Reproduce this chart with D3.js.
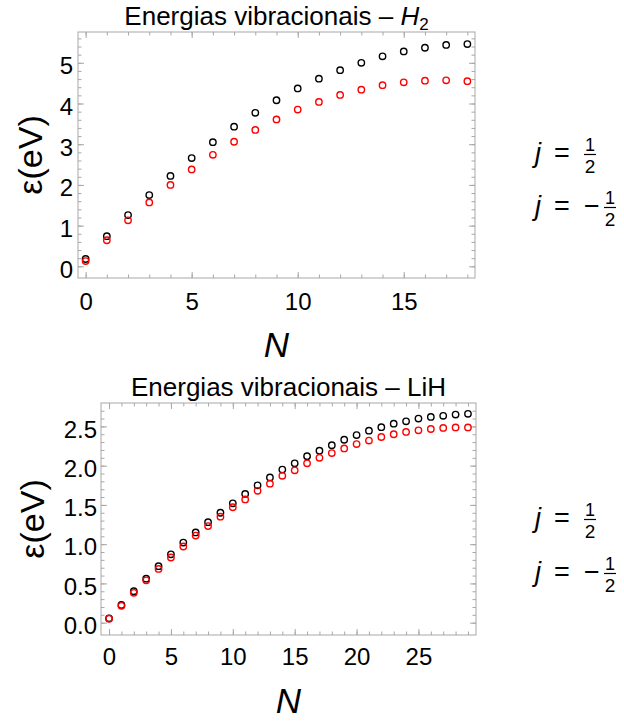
<!DOCTYPE html>
<html>
<head>
<meta charset="utf-8">
<script src="https://cdn.jsdelivr.net/npm/d3@7"></script>
<style>
  body { margin: 0; background: #fff; }
  svg { display: block; font-family: "Liberation Sans", Arial, sans-serif; }
  .frame line, .frame path { stroke: #a8a8a8; }
  .frame text { fill: #000; font-size: 24px; }
</style>
</head>
<body>
<div id="chart"></div>
<script>
// H2 vibrational energies, N = 0..18
const nH2 = d3.range(0, 19)
const h2Up = [0.18, 0.74, 1.26, 1.75, 2.22, 2.66, 3.05, 3.43, 3.77, 4.08, 4.37, 4.61, 4.82, 5.00, 5.16, 5.28, 5.37, 5.44, 5.46]
const h2Down = [0.13, 0.64, 1.13, 1.57, 2.00, 2.38, 2.74, 3.06, 3.35, 3.61, 3.85, 4.04, 4.21, 4.34, 4.45, 4.52, 4.56, 4.57, 4.55]

// LiH vibrational energies, N = 0..29
const nLiH = d3.range(0, 30)
const lihUp = [0.055, 0.225, 0.40, 0.56, 0.72, 0.87, 1.02, 1.15, 1.28, 1.40, 1.52, 1.64, 1.75, 1.85, 1.95, 2.03, 2.12, 2.19, 2.26, 2.33, 2.39, 2.445, 2.49, 2.535, 2.565, 2.60, 2.62, 2.635, 2.65, 2.66]
const lihDown = [0.05, 0.215, 0.38, 0.54, 0.685, 0.83, 0.97, 1.11, 1.23, 1.35, 1.47, 1.57, 1.68, 1.77, 1.87, 1.94, 2.03, 2.10, 2.16, 2.22, 2.275, 2.32, 2.365, 2.40, 2.43, 2.45, 2.467, 2.48, 2.487, 2.487]

const h2XTicks = [0, 5, 10, 15]
const h2YTicks = [0, 1, 2, 3, 4, 5]
const lihXTicks = [0, 5, 10, 15, 20, 25]
const lihYTicks = [0, 0.5, 1.0, 1.5, 2.0, 2.5]

const width = 624, height = 721

const svg = d3.select('#chart')
  .append('svg')
  .attr('width', width)
  .attr('height', height)

function panel(opt) {
  const g = svg.append('g')

  const x = d3.scaleLinear().domain(opt.xDomain).range([opt.left, opt.right])
  const y = d3.scaleLinear().domain(opt.yDomain).range([opt.bottom, opt.top])

  const frame = g.append('g').attr('class', 'frame')

  // minor ticks
  const axes = [
    [d3.axisBottom(x), `translate(0,${opt.bottom})`, opt.xMinor],
    [d3.axisTop(x), `translate(0,${opt.top})`, opt.xMinor],
    [d3.axisLeft(y), `translate(${opt.left},0)`, opt.yMinor],
    [d3.axisRight(y), `translate(${opt.right},0)`, opt.yMinor]
  ]
  axes.forEach(([ax, tr, vals]) => {
    frame.append('g')
      .attr('transform', tr)
      .call(ax.tickValues(vals).tickSize(-3.5).tickSizeOuter(0).tickFormat(''))
      .call(s => s.select('.domain').remove())
  })

  // major ticks + labels
  frame.append('g')
    .attr('transform', `translate(0,${opt.bottom})`)
    .call(d3.axisBottom(x).tickValues(opt.xTicks).tickSize(-6).tickSizeOuter(0).tickPadding(opt.xPad).tickFormat(d3.format('d')))
    .call(s => s.select('.domain').remove())
  frame.append('g')
    .attr('transform', `translate(0,${opt.top})`)
    .call(d3.axisTop(x).tickValues(opt.xTicks).tickSize(-6).tickSizeOuter(0).tickFormat(''))
    .call(s => s.select('.domain').remove())
  frame.append('g')
    .attr('transform', `translate(${opt.left},0)`)
    .call(d3.axisLeft(y).tickValues(opt.yTicks).tickSize(-6).tickSizeOuter(0).tickPadding(opt.yPad).tickFormat(opt.yFormat))
    .call(s => s.select('.domain').remove())
    .call(s => s.selectAll('text').attr('dy', '0.45em'))
  frame.append('g')
    .attr('transform', `translate(${opt.right},0)`)
    .call(d3.axisRight(y).tickValues(opt.yTicks).tickSize(-6).tickSizeOuter(0).tickFormat(''))
    .call(s => s.select('.domain').remove())

  frame.selectAll('text').attr('font-size', 24).attr('font-family', null)

  frame.append('rect')
    .attr('x', opt.left)
    .attr('y', opt.top)
    .attr('width', opt.right - opt.left)
    .attr('height', opt.bottom - opt.top)
    .attr('fill', 'none')
    .attr('stroke', '#a8a8a8')
    .attr('stroke-width', 1)

  // points
  const series = [
    { vals: opt.up, colour: '#000000' },
    { vals: opt.down, colour: '#ff0000' }
  ]
  series.forEach(s => {
    g.append('g').selectAll('circle')
      .data(s.vals)
      .enter()
      .append('circle')
      .attr('cx', (d, i) => x(opt.n[i]))
      .attr('cy', d => y(d))
      .attr('r', 3.2)
      .attr('fill', 'none')
      .attr('stroke', s.colour)
      .attr('stroke-width', 1.4)
  })

  // title
  const t = g.append('text')
    .attr('x', (opt.left + opt.right) / 2)
    .attr('y', opt.top - 7)
    .attr('text-anchor', 'middle')
    .attr('font-size', 26)
  t.append('tspan').text(opt.title)
  if (opt.titleItalic) {
    t.append('tspan').attr('font-style', 'italic').text(opt.titleItalic)
    t.append('tspan').attr('font-size', 17).attr('dy', 5).text(opt.titleSub)
  }

  // axis labels
  g.append('text')
    .attr('x', (opt.left + opt.right) / 2)
    .attr('y', opt.nBase)
    .attr('text-anchor', 'middle')
    .attr('font-size', 35)
    .attr('font-style', 'italic')
    .text('N')

  g.append('text')
    .attr('transform', `translate(${opt.epsX},${(opt.top + opt.bottom) / 2}) rotate(-90)`)
    .attr('text-anchor', 'middle')
    .attr('font-size', 34)
    .text('ε(eV)')

  // legend (text only)
  const rows = [{ minus: false, yb: opt.legY[0] }, { minus: true, yb: opt.legY[1] }]
  rows.forEach(r => {
    const lg = g.append('g').attr('transform', `translate(535,${r.yb})`)
    lg.append('text').attr('font-size', 27).attr('font-style', 'italic').attr('x', 0).text('j')
    lg.append('text').attr('font-size', 27).attr('x', 19).text('=')
    let fx = 55
    if (r.minus) {
      lg.append('text').attr('font-size', 27).attr('x', 49).text('−')
      fx = 75
    }
    lg.append('text').attr('font-size', 18).attr('x', fx).attr('y', -11).attr('text-anchor', 'middle').text('1')
    lg.append('line').attr('x1', fx - 6).attr('x2', fx + 6).attr('y1', -7.5).attr('y2', -7.5).attr('stroke', '#000').attr('stroke-width', 1.2)
    lg.append('text').attr('font-size', 19).attr('x', fx).attr('y', 11).attr('text-anchor', 'middle').text('2')
  })
}

panel({
  n: nH2, up: h2Up, down: h2Down,
  left: 78, right: 475, top: 32, bottom: 278,
  xDomain: [-0.36, 18.36], yDomain: [-0.287, 5.757],
  xTicks: h2XTicks, xMinor: d3.range(0, 19),
  yTicks: h2YTicks, yMinor: d3.range(0, 5.8, 0.2),
  yFormat: d3.format('d'),
  xPad: 15, yPad: 5,
  title: 'Energias vibracionais – ', titleItalic: 'H', titleSub: '2',
  nBase: 357, epsX: 42,
  legY: [162, 215]
})

panel({
  n: nLiH, up: lihUp, down: lihDown,
  left: 101, right: 476, top: 403, bottom: 635,
  xDomain: [-0.65, 29.65], yDomain: [-0.157, 2.798],
  xTicks: lihXTicks, xMinor: d3.range(0, 30),
  yTicks: lihYTicks, yMinor: d3.range(0, 2.8, 0.1),
  yFormat: d3.format('.1f'),
  xPad: 13, yPad: 4,
  title: 'Energias vibracionais – LiH',
  nBase: 713, epsX: 44,
  legY: [527, 581]
})
</script>
</body>
</html>
